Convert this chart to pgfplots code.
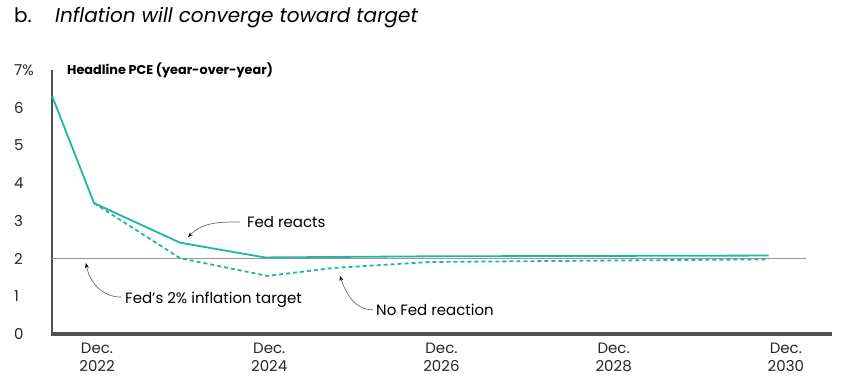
\documentclass[border=0pt]{standalone}
\usepackage{fontspec}
\setmainfont{Poppins}
\usepackage{pgfplots}
\pgfplotsset{compat=1.18}
\usetikzlibrary{arrows.meta}
\definecolor{teal1}{RGB}{32,184,154}
\definecolor{axgray}{RGB}{80,80,80}
\definecolor{tgtgray}{RGB}{150,150,150}
\definecolor{arrgray}{RGB}{110,110,110}
\begin{document}
\begin{tikzpicture}
\path[use as bounding box] (0pt,0pt) rectangle (847pt,-387pt);
\node[anchor=base west, inner sep=0] at (14pt,-23pt) {\fontsize{20}{24}\selectfont b.};
\node[anchor=base west, inner sep=0] at (55pt,-23pt) {\fontsize{20}{24}\selectfont\itshape Inflation will converge toward target};
\node[anchor=base west, inner sep=0] at (67pt,-75pt) {\fontsize{12.8}{15}\selectfont\bfseries Headline PCE (year-over-year)};
\begin{axis}[
  at={(52pt,-334pt)}, anchor=south west,
  scale only axis, width=780pt, height=264pt,
  xmin=-0.523, xmax=8.536, ymin=0, ymax=7,
  axis lines*=left,
  axis line style={axgray, line width=1.6pt},
  clip=false,
  major tick length=0pt,
  /pgf/number format/assume math mode=true,
  ytick={0,1,2,3,4,5,6,7},
  yticklabels={0,1,2,3,4,5,6,7\%},
  xtick={0,2,4,6,8},
  xticklabels={{Dec.\\2022},{Dec.\\2024},{Dec.\\2026},{Dec.\\2028},{Dec.\\2030}},
  ticklabel style={font=\fontsize{15}{18}\selectfont, text=black!85},
  yticklabel style={anchor=west, inner sep=0pt, xshift=-38pt},
  xticklabel style={anchor=north, inner sep=0pt, yshift=-9pt, align=center},
]
\addplot[tgtgray, line width=1.2pt] coordinates {(-0.523,2) (8.235,2)};
\addplot[teal1, line width=1.8pt, dash pattern=on 4pt off 3pt] coordinates {(-0.035,3.47) (0.965,2.01) (1.98,1.54) (2.74,1.75) (3.87,1.91) (7.80,1.98)};
\addplot[teal1, line width=1.8pt] coordinates {(-0.52,6.30) (-0.035,3.47) (0.965,2.42) (1.95,2.03) (3.87,2.06) (7.80,2.08)};
\node[anchor=west, inner sep=0, font=\fontsize{15}{18}\selectfont] at (axis cs:1.74,2.97) {Fed reacts};
\node[anchor=west, inner sep=0, font=\fontsize{15}{18}\selectfont] at (axis cs:0.325,0.90) {Fed’s 2\% inflation target};
\node[anchor=west, inner sep=0, font=\fontsize{15}{18}\selectfont] at (axis cs:3.24,0.64) {No Fed reaction};
\draw[arrgray, line width=0.7pt, -{Stealth[black,length=5pt,width=4pt]}] (axis cs:1.66,2.97) to[out=180,in=45] (axis cs:1.057,2.57);
\draw[arrgray, line width=0.7pt, -{Stealth[black,length=5pt,width=4pt]}] (axis cs:0.279,0.98) to[out=180,in=-80] (axis cs:-0.128,1.88);
\draw[arrgray, line width=0.7pt, -{Stealth[black,length=5pt,width=4pt]}] (axis cs:3.205,0.64) to[out=180,in=-70] (axis cs:2.82,1.54);
\end{axis}
\fill[axgray] (51.2pt,-332.3pt) rectangle (832pt,-335.7pt);
\end{tikzpicture}
\end{document}
